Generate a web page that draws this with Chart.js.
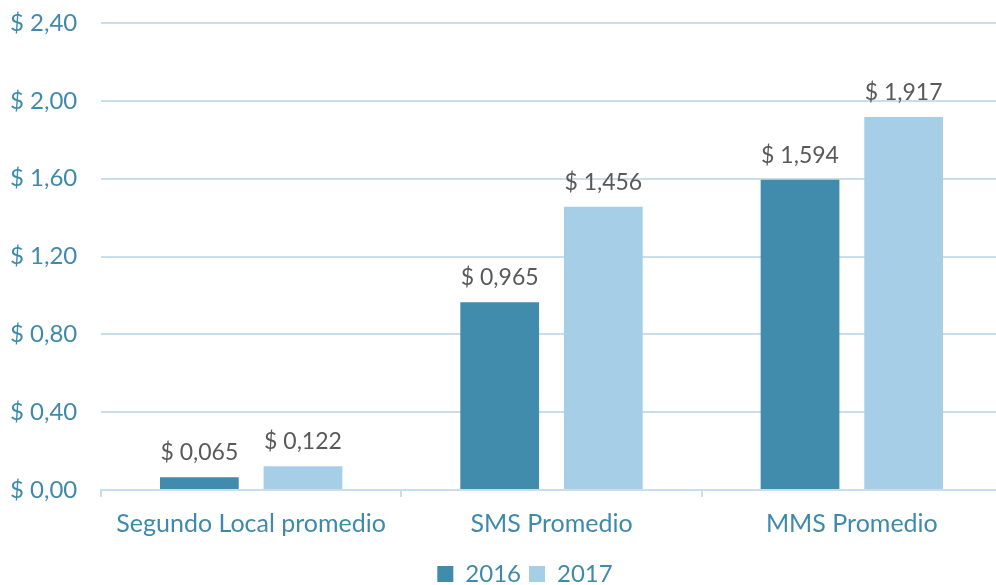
<!DOCTYPE html>
<html>
<head>
<meta charset="utf-8">
<script src="https://cdn.jsdelivr.net/npm/chart.js@4"></script>
<style>
  html, body { margin: 0; padding: 0; background: #fff; overflow: hidden; }
  #wrap { width: 996px; height: 585px; overflow: hidden; }
</style>
</head>
<body>
<div id="wrap"><canvas id="myChart" width="1002" height="585"></canvas></div>
<script>
const categories = ['Segundo Local promedio', 'SMS Promedio', 'MMS Promedio'];
const series2016 = [0.065, 0.965, 1.594];
const series2017 = [0.122, 1.456, 1.917];
const seriesNames = ['2016', '2017'];

const tickColor = '#3F8AAB';
const gridColor = '#C9DEEA';
const fontFamily = 'Lato, "Open Sans", sans-serif';

const money = (v, d) => '$ ' + v.toFixed(d).replace('.', ',');

const valueLabels = {
  id: 'valueLabels',
  afterDatasetsDraw(chart) {
    const ctx = chart.ctx;
    ctx.save();
    ctx.font = '23px ' + fontFamily;
    ctx.fillStyle = '#595959';
    ctx.textAlign = 'center';
    ctx.textBaseline = 'bottom';
    chart.data.datasets.forEach((ds, i) => {
      chart.getDatasetMeta(i).data.forEach((bar, j) => {
        ctx.fillText(money(ds.data[j], 3), bar.x, bar.y - 13);
      });
    });
    ctx.restore();
  }
};

// nudge the legend a bit right and down, like the original
const legendNudge = {
  id: 'legendNudge',
  afterLayout(chart) {
    const lg = chart.legend;
    if (!lg) return;
    lg.left += 19; lg.right += 19;
    lg.top += 11; lg.bottom += 11;
  }
};

const ctx = document.getElementById('myChart').getContext('2d');
new Chart(ctx, {
  type: 'bar',
  data: {
    labels: categories,
    datasets: [
      { label: seriesNames[0], data: series2016, backgroundColor: '#418BAD' },
      { label: seriesNames[1], data: series2017, backgroundColor: '#A6CFE7' },
    ],
  },
  options: {
    responsive: false,
    animation: false,
    layout: { padding: { left: 10, right: 0, top: 23, bottom: 0 } },
    datasets: {
      bar: { categoryPercentage: 0.69, barPercentage: 0.76 },
    },
    plugins: {
      legend: {
        position: 'bottom',
        labels: {
          boxWidth: 16,
          boxHeight: 16,
          color: tickColor,
          font: { family: fontFamily, size: 24 },
          padding: 8,
        },
      },
      tooltip: { enabled: false },
    },
    scales: {
      y: {
        min: 0,
        max: 2.4,
        afterFit: (s) => { s.width = 91; s.paddingTop = 0; s.paddingBottom = 0; },
        ticks: {
          stepSize: 0.4,
          color: tickColor,
          crossAlign: 'far',
          font: { family: fontFamily, size: 24 },
          padding: 26,
          callback: (v) => money(v, 2),
        },
        grid: { color: gridColor, lineWidth: 2, drawTicks: false },
        border: { display: false },
      },
      x: {
        afterFit: (s) => { s.height -= 8; },
        ticks: {
          color: tickColor,
          font: { family: fontFamily, size: 25 },
          padding: 12,
        },
        grid: {
          offset: true,
          drawOnChartArea: false,
          color: gridColor,
          lineWidth: 2,
          tickLength: 7,
        },
        border: { color: gridColor, width: 2 },
      },
    },
  },
  plugins: [valueLabels, legendNudge],
});
</script>
</body>
</html>
